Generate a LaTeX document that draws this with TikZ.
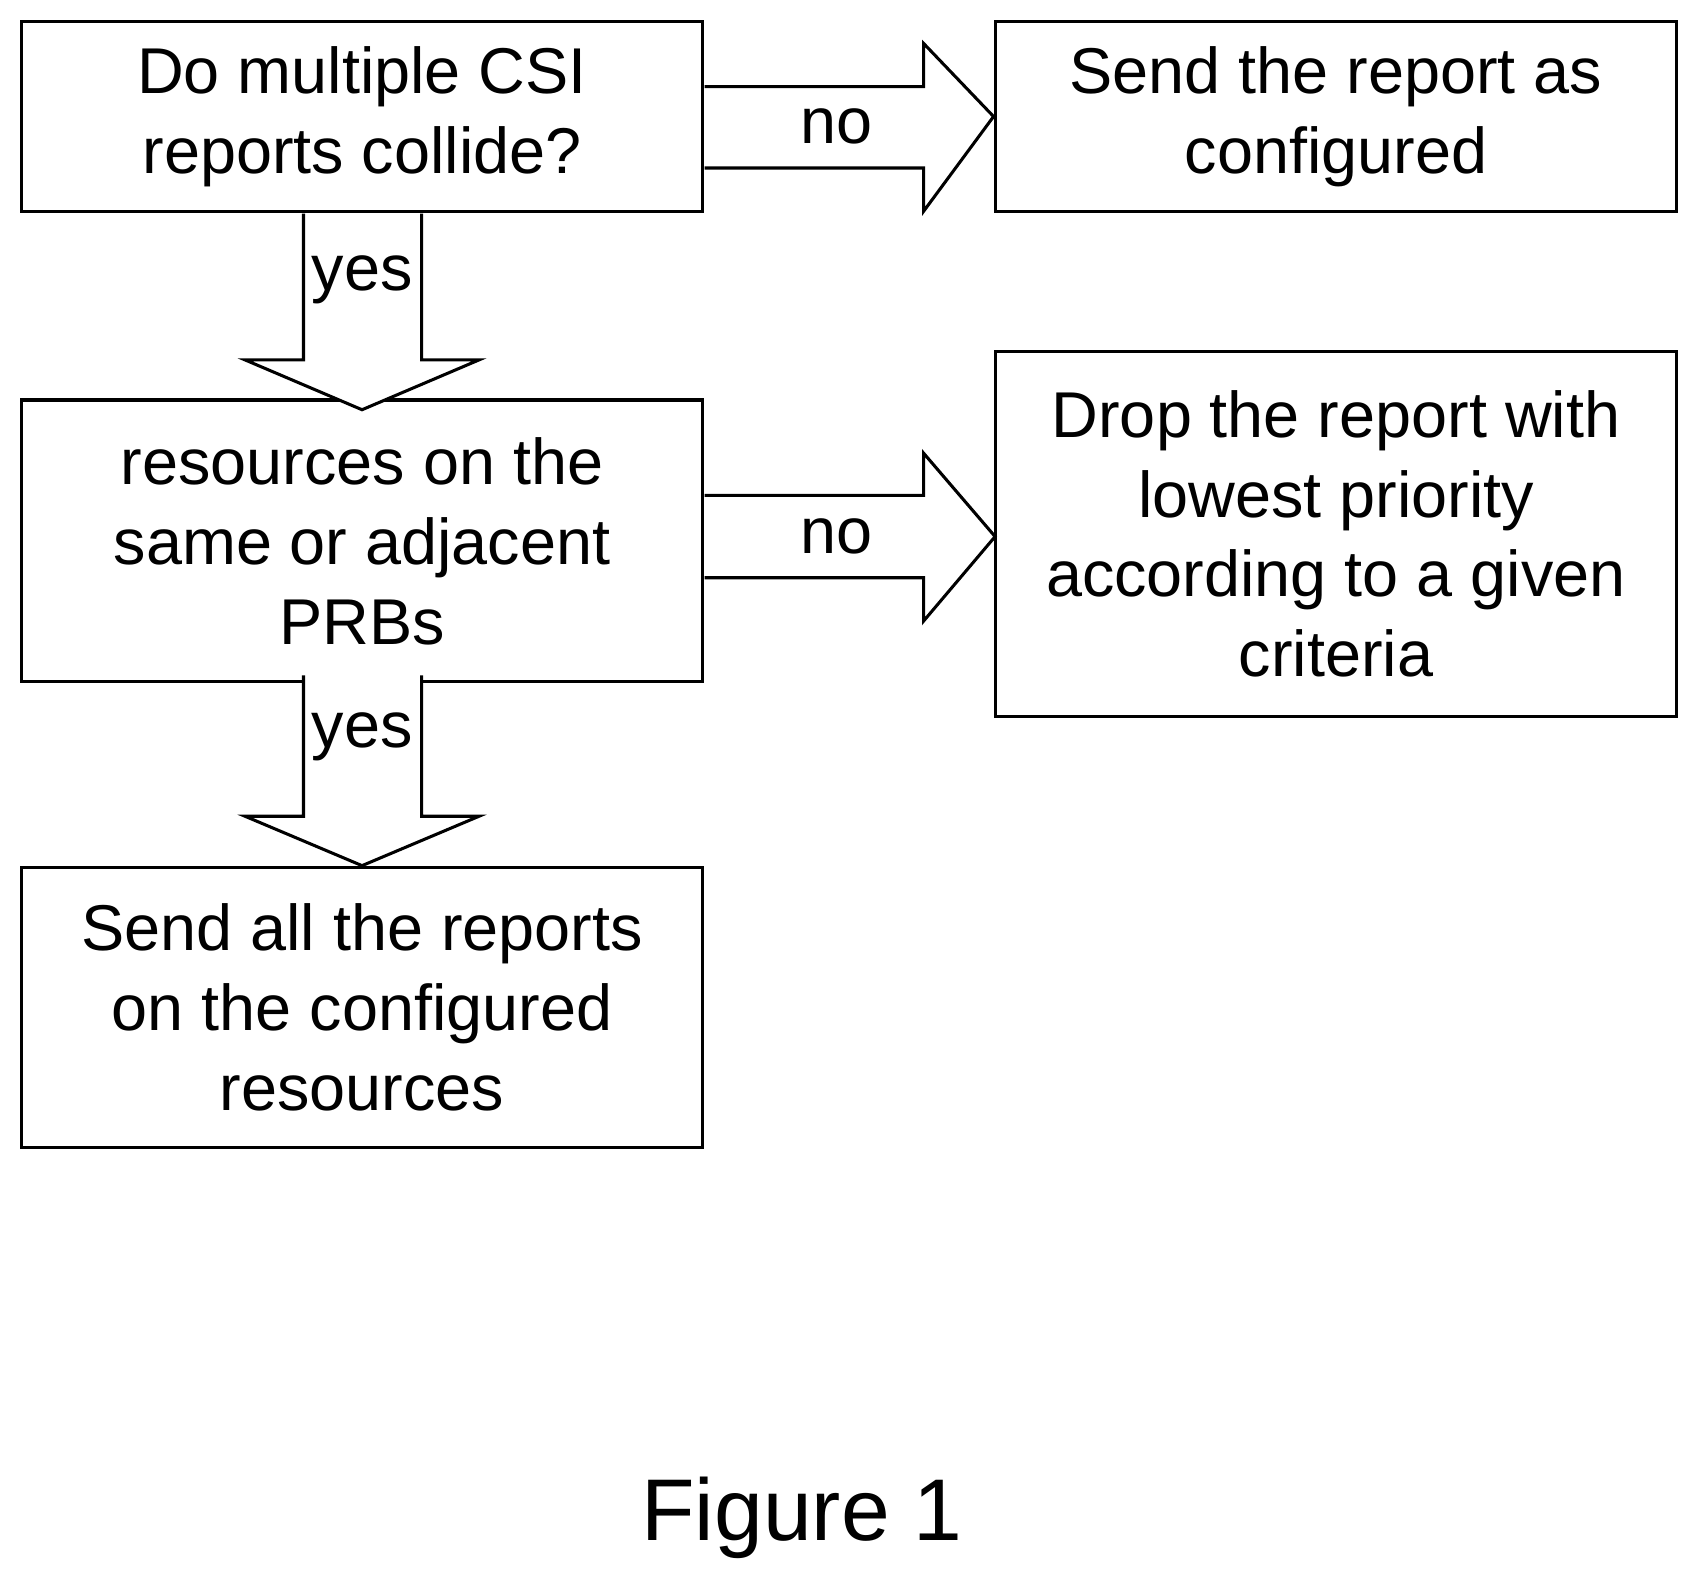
\documentclass[tikz,border=0pt]{standalone}
\usepackage{fontspec}
\setmainfont{Liberation Sans}
\usetikzlibrary{calc}
\begin{document}
\begin{tikzpicture}[x=0.02cm,y=-0.02cm,
 box/.style={draw,line width=1.6pt,fill=white,align=center,inner sep=0,font=\fontsize{34}{42}\selectfont},
 arr/.style={draw,line width=1.6pt,fill=white,line join=miter},
 lbl/.style={font=\fontsize{34}{42}\selectfont}]
\useasboundingbox (0,0) rectangle (1560,1456);
\node[box,minimum width=628*0.02cm,minimum height=175*0.02cm] (q1) at (334,107.5) {Do multiple CSI\\reports collide?};
\node[box,minimum width=629*0.02cm,minimum height=175*0.02cm] (s1) at (1232.5,107.5) {Send the report as\\configured};
\node[box,minimum width=628*0.02cm,minimum height=260*0.02cm] (q2) at (334,499) {resources on the\\same or adjacent\\PRBs};
\node[box,minimum width=629*0.02cm,minimum height=337*0.02cm] (d1) at (1232.5,492.5) {Drop the report with\\lowest priority\\according to a given\\criteria};
\node[box,minimum width=628*0.02cm,minimum height=259*0.02cm] (s2) at (334,929.5) {Send all the reports\\on the configured\\resources};
% arrows
\draw[arr] (650,80) -- (852,80) -- (852,40) -- (s1.west|-q1) -- (852,195) -- (852,155) -- (650,155);
\draw[arr] (280,197) -- (280,332) -- (226,332) -- (334,378) -- (442,332) -- (389,332) -- (389,197);
\draw[arr] (650,457) -- (852,457) -- (852,418) -- (918,495) -- (852,573) -- (852,533) -- (650,533);
\draw[arr] (280,623) -- (280,753) -- (226,753) -- (s2.north) -- (442,753) -- (389,753) -- (389,623);
\node[lbl] (n1) at (772,117) {no};
\node[lbl] (y1) at (334,258) {yes};
\node[lbl] (n2) at (772,495) {no};
\node[lbl] (y2) at (334,680) {yes};
\node[font=\fontsize{46}{54}\selectfont] (fig) at (740,1400) {Figure 1};
\end{tikzpicture}
\end{document}
